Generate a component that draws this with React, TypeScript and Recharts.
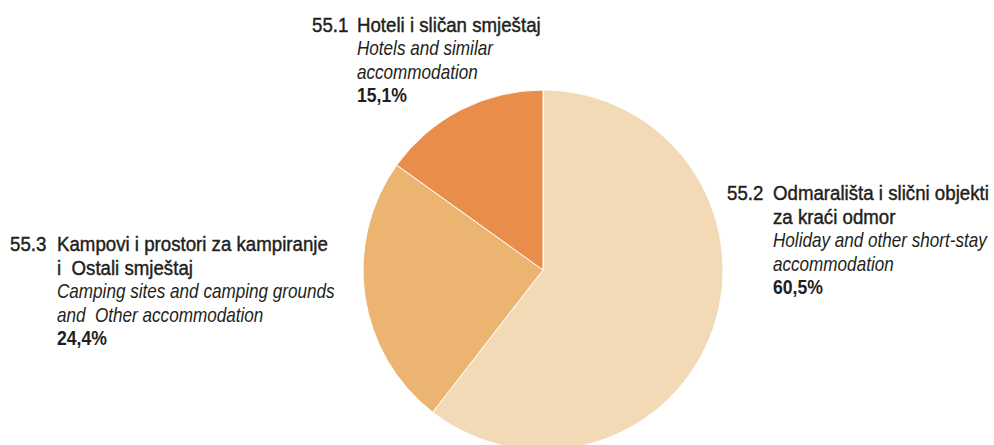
import { PieChart, Pie, Cell } from "recharts";

const CODES = ["55.2", "55.3", "55.1"];
const TITLES_HR = [
  ["Odmarališta i slični objekti", "za kraći odmor"],
  ["Kampovi i prostori za kampiranje", "i  Ostali smještaj"],
  ["Hoteli i sličan smještaj"],
];
const TITLES_EN = [
  ["Holiday and other short-stay", "accommodation"],
  ["Camping sites and camping grounds", "and  Other accommodation"],
  ["Hotels and similar", "accommodation"],
];
const SHARES = [60.5, 24.4, 15.1];
const COLORS = ["#f2dab7", "#ebb571", "#e98d4b"];

// label block placement: x of code, x of text, first baseline
const LABEL_POS = [
  { x: 727, tx: 773, y: 200 },
  { x: 10, tx: 57, y: 251 },
  { x: 312, tx: 357, y: 31.5 },
];
const STEP = 23.5;

const data = CODES.map((c, i) => ({ name: c, value: SHARES[i] }));

const FONT = "'Liberation Sans', Arial, sans-serif";
const INK = "#231f20";

// condensed look: squeeze a normal sans horizontally
function Line(props: {
  x: number;
  y: number;
  sx: number;
  style?: string;
  weight?: string;
  heavy?: boolean;
  children: any;
}) {
  return (
    <text
      x={0}
      y={0}
      transform={`translate(${props.x} ${props.y}) scale(${props.sx} 1)`}
      fontSize={21}
      fontStyle={props.style || "normal"}
      fontWeight={props.weight || "normal"}
      fill={INK}
      stroke={props.heavy ? INK : "none"}
      strokeWidth={props.heavy ? 0.45 : 0}
      style={{ whiteSpace: "pre" }}
    >
      {props.children}
    </text>
  );
}

function renderLabel(props: any) {
  const i = props.index;
  const p = LABEL_POS[i];
  const lines: any[] = [];
  let k = 0;
  TITLES_HR[i].forEach((t, j) => {
    lines.push(
      <Line key={"h" + j} x={p.tx} y={p.y + STEP * k} sx={0.89} heavy>
        {t}
      </Line>
    );
    k++;
  });
  TITLES_EN[i].forEach((t, j) => {
    lines.push(
      <Line key={"e" + j} x={p.tx} y={p.y + STEP * k} sx={0.815} style="italic">
        {t}
      </Line>
    );
    k++;
  });
  lines.push(
    <Line key="v" x={p.tx} y={p.y + STEP * k} sx={0.84} weight="bold">
      {SHARES[i].toFixed(1).replace(".", ",") + "%"}
    </Line>
  );
  return (
    <g fontFamily={FONT}>
      <Line x={p.x} y={p.y} sx={0.89} heavy>
        {CODES[i]}
      </Line>
      {lines}
    </g>
  );
}

export default function App() {
  return (
    <div style={{ position: "absolute", left: 0, top: 0, width: 994, height: 445, background: "white" }}>
      <PieChart width={994} height={445} margin={{ top: 0, right: 0, bottom: 0, left: 0 }}>
        <Pie
          data={data}
          dataKey="value"
          cx={543}
          cy={270}
          outerRadius={180}
          startAngle={90}
          endAngle={-270}
          stroke="#ffffff"
          strokeWidth={1}
          label={renderLabel}
          labelLine={false}
          isAnimationActive={false}
        >
          {data.map((d, i) => (
            <Cell key={d.name} fill={COLORS[i]} />
          ))}
        </Pie>
      </PieChart>
    </div>
  );
}
